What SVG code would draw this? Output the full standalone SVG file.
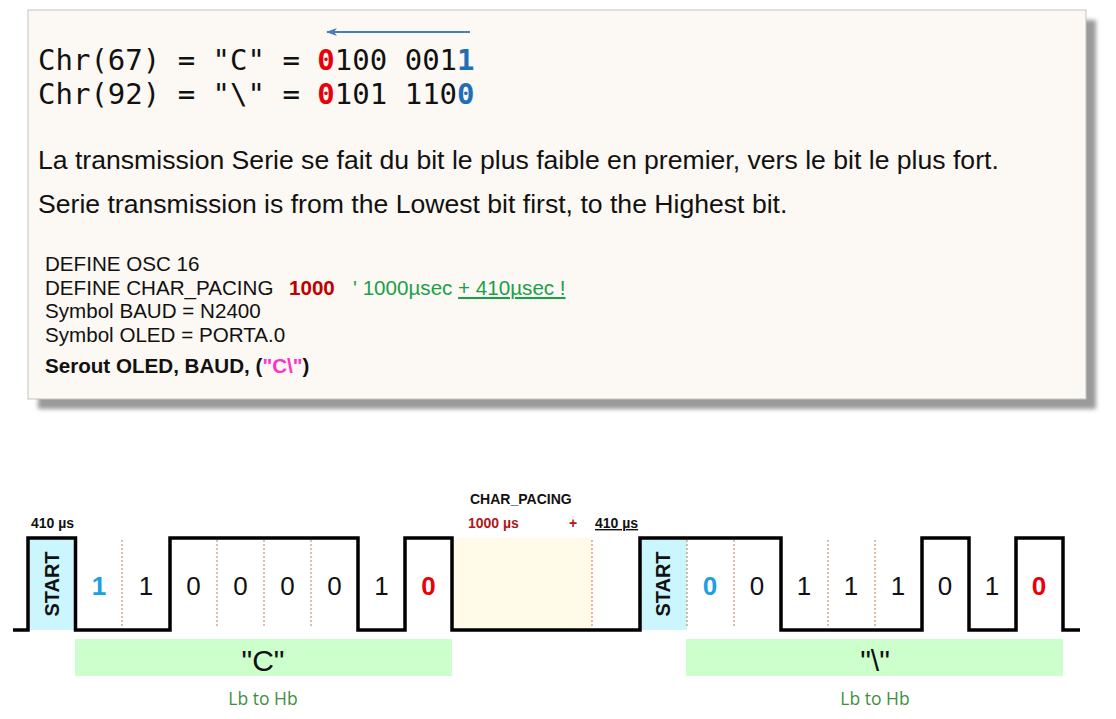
<svg xmlns="http://www.w3.org/2000/svg" width="1116" height="719" viewBox="0 0 1116 719">
<style>
.mono{font-family:"DejaVu Sans Mono","Liberation Mono",monospace;font-size:29px;fill:#111}
.txt{font-family:"Liberation Sans",Arial,sans-serif;font-size:26.6px;fill:#111}
.code{font-family:"Liberation Sans",Arial,sans-serif;font-size:20.6px;fill:#111}
.b{font-weight:bold}
.bit{font-family:"Liberation Sans",Arial,sans-serif;font-size:26px;fill:#111;text-anchor:middle}
.start{font-family:"Liberation Sans",Arial,sans-serif;font-size:20px;font-weight:bold;fill:#111;text-anchor:middle}
.lbl{font-family:"Liberation Sans",Arial,sans-serif;font-size:14px;font-weight:bold;fill:#111}
.big{font-family:"Liberation Sans",Arial,sans-serif;font-size:30px;fill:#111;text-anchor:middle}
.lh{font-family:"Open Sans","Noto Sans",sans-serif;font-size:17.5px;fill:#3f8f3f;text-anchor:middle}
.dot{stroke:#c07a50;stroke-width:1;stroke-dasharray:2 2;fill:none}
.wave{stroke:#000;stroke-width:3.5;fill:none;stroke-linejoin:miter}
</style>
<defs>
<filter id="sh" x="-5%" y="-5%" width="110%" height="110%"><feGaussianBlur stdDeviation="2"/></filter>
<marker id="ah" markerWidth="12" markerHeight="10" refX="10" refY="5" orient="auto" markerUnits="userSpaceOnUse">
<path d="M0,1 L11,5 L0,9 L3,5 Z" fill="#4a7ebb"/>
</marker>
</defs>
<rect width="1116" height="719" fill="#fff"/>
<g id="panel">
<rect x="38" y="20" width="1058" height="389" fill="#9a9a9a" filter="url(#sh)"/>
<rect x="28" y="10" width="1058" height="389" fill="#fcf8f3" stroke="#c4c4c4" stroke-width="1"/>
</g>
<g id="connectors">
<line x1="470" y1="32" x2="327" y2="32" stroke="#4a7ebb" stroke-width="1.8" marker-end="url(#ah)"/>
</g>
<g id="binary">
<text class="mono" x="38" y="70">Chr(67) = "C" = <tspan fill="#e8000b" font-weight="bold">0</tspan>100 001<tspan fill="#1e6fb8" font-weight="bold">1</tspan></text>
<text class="mono" x="38" y="104">Chr(92) = "\" = <tspan fill="#e8000b" font-weight="bold">0</tspan>101 110<tspan fill="#1e6fb8" font-weight="bold">0</tspan></text>
</g>
<g id="explain">
<text class="txt" x="38" y="169">La transmission Serie se fait du bit le plus faible en premier, vers le bit le plus fort.</text>
<text class="txt" x="38" y="213">Serie transmission is from the Lowest bit first, to the Highest bit.</text>
</g>
<g id="code">
<text class="code" x="45" y="271">DEFINE OSC 16</text>
<text class="code" x="45" y="295">DEFINE CHAR_PACING <tspan x="289" fill="#c00000" font-weight="bold">1000</tspan><tspan x="353" fill="#1aa04a">' 1000µsec </tspan><tspan fill="#1aa04a" text-decoration="underline">+ 410µsec !</tspan></text>
<text class="code" x="45" y="318">Symbol BAUD = N2400</text>
<text class="code" x="45" y="342">Symbol OLED = PORTA.0</text>
<text class="code b" x="45" y="373">Serout OLED, BAUD, (<tspan fill="#ff33cc">"C\"</tspan>)</text>
</g>
<g id="fills">
<rect x="28" y="538" width="47.5" height="92" fill="#ccf6fd"/>
<rect x="640" y="538" width="47" height="92" fill="#ccf6fd"/>
<rect x="452" y="538" width="140" height="92" fill="#fffbe8"/>
<rect x="75" y="639" width="377" height="37" fill="#ccffcc"/>
<rect x="686" y="639" width="377" height="37" fill="#ccffcc"/>
</g>
<g id="dividers">
<path class="dot" d="M122,540V628M217,540V628M264,540V628M311,540V628M592,540V628M687,540V628M734,540V628M828,540V628M875,540V628"/>
</g>
<g id="waveform">
<path class="wave" d="M13,630H28V538H75.5V630H170V538H358V630H405V538H452V630H640V538H781V630H922V538H969V630H1016V538H1063V630H1080"/>
</g>
<g id="timing-labels">
<text class="lbl" x="31" y="528">410 µs</text>
<text class="lbl" x="470" y="504">CHAR_PACING</text>
<text class="lbl" x="468" y="528" style="fill:#b01818">1000 µs</text>
<text class="lbl" x="573" y="528" style="fill:#b01818;text-anchor:middle">+</text>
<text class="lbl" x="595" y="528" text-decoration="underline">410 µs</text>
</g>
<g id="char-C">
<text class="start" transform="translate(58.5,584) rotate(-90)">START</text>
<text class="bit b" x="99" y="595" style="fill:#1ca0e0">1</text>
<text class="bit" x="146" y="595">1</text>
<text class="bit" x="193.5" y="595">0</text>
<text class="bit" x="240.5" y="595">0</text>
<text class="bit" x="287.5" y="595">0</text>
<text class="bit" x="334.5" y="595">0</text>
<text class="bit" x="381.5" y="595">1</text>
<text class="bit b" x="428.5" y="595" style="fill:#e8000b">0</text>
<text class="big" x="263" y="671">"C"</text>
<text class="lh" x="263" y="705">Lb to Hb</text>
</g>
<g id="char-backslash">
<text class="start" transform="translate(670,584) rotate(-90)">START</text>
<text class="bit b" x="710" y="595" style="fill:#1ca0e0">0</text>
<text class="bit" x="757" y="595">0</text>
<text class="bit" x="804" y="595">1</text>
<text class="bit" x="851" y="595">1</text>
<text class="bit" x="898" y="595">1</text>
<text class="bit" x="945" y="595">0</text>
<text class="bit" x="992" y="595">1</text>
<text class="bit b" x="1039" y="595" style="fill:#e8000b">0</text>
<text class="big" x="875" y="671">"\"</text>
<text class="lh" x="875" y="705">Lb to Hb</text>
</g>
</svg>
